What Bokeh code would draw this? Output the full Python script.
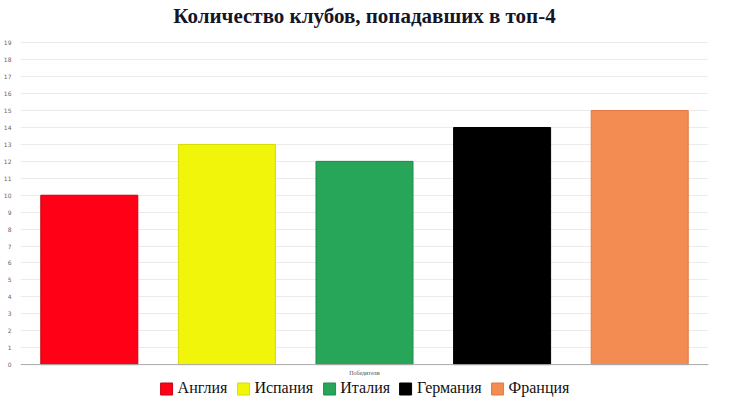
from bokeh.plotting import figure
from bokeh.models import (Legend, LegendItem, ColumnDataSource, Range1d, FixedTicker,
                          Span, Label)
from bokeh.embed import file_html
from bokeh.resources import INLINE

countries = ["Англия", "Испания", "Италия", "Германия", "Франция"]
values = [10, 13, 12, 14, 15]
colors = ["#ff0016", "#f0f50a", "#27a65a", "#000000", "#f28c52"]
borders = ["#c8000f", "#d7dc00", "#1e8c4b", "#000000", "#e07840"]
y_ticks = list(range(0, 20))
title_text = "Количество клубов, попадавших в топ-4"
x_label = "Победители"

p = figure(width=714, height=401, x_range=countries, y_range=Range1d(-2.18, 21.5),
           output_backend="svg", toolbar_location=None, x_axis_location=None,
           min_border_left=12, min_border_right=6, min_border_top=0, min_border_bottom=0)

renderers = []
for c, v, col, b in zip(countries, values, colors, borders):
    src = ColumnDataSource(dict(x=[c], top=[v]))
    r = p.vbar(x="x", top="top", bottom=0, width=0.705, source=src, fill_color=col,
               line_color=b, line_width=1)
    renderers.append(r)

p.yaxis.ticker = FixedTicker(ticks=y_ticks)
p.yaxis.major_label_text_font_size = "6px"
p.yaxis.major_label_text_color = "#666666"
p.yaxis.major_label_text_font = "DejaVu Sans"
p.yaxis.axis_line_color = None
p.yaxis.major_tick_line_color = None
p.yaxis.minor_tick_line_color = None
p.yaxis.major_label_standoff = 3

p.xgrid.grid_line_color = None
p.ygrid.grid_line_color = "#ebebeb"
p.outline_line_color = None

p.add_layout(Span(location=0, dimension="width", line_color="#aaaaaa", line_width=1))
p.add_layout(Label(x=2.5, y=0, y_offset=-8, text=x_label, text_align="center",
                   text_baseline="middle", text_font="Liberation Serif",
                   text_font_size="6px", text_color="#555555"))
p.add_layout(Label(x=2.5, y=20.58, text=title_text, text_align="center",
                   text_baseline="alphabetic", text_font="Liberation Serif",
                   text_font_size="21px", text_font_style="bold", text_color="#151528"))

legend = Legend(items=[LegendItem(label=c, renderers=[r]) for c, r in zip(countries, renderers)],
                orientation="horizontal", location="bottom_center")
legend.label_text_font = "Liberation Serif"
legend.label_text_font_size = "16px"
legend.label_text_color = "#111111"
legend.glyph_width = 15
legend.glyph_height = 15
legend.label_height = 16
legend.label_standoff = 4
legend.spacing = 8
legend.padding = 0
legend.margin = 4
legend.border_line_color = None
legend.background_fill_alpha = 0
p.add_layout(legend)

open("out.html", "w").write(file_html(p, INLINE))
